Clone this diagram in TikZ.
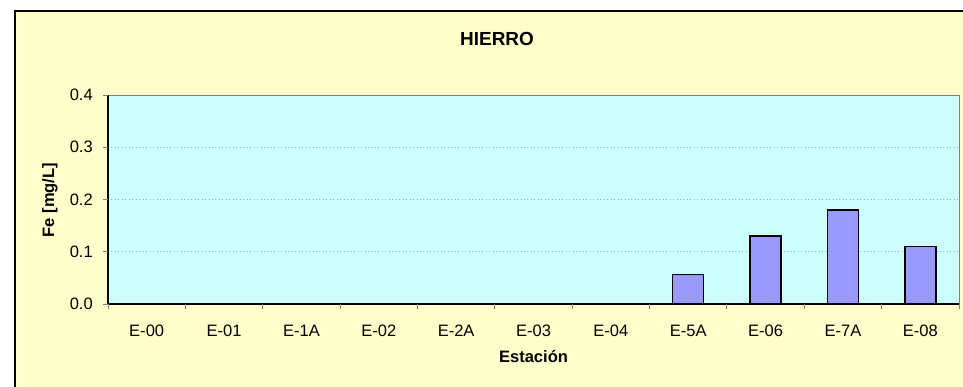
\documentclass[tikz,border=0pt]{standalone}
\usepackage{fontspec}
\setmainfont{Liberation Sans}
\usepackage{tikz}
\usetikzlibrary{positioning}
\definecolor{chartbg}{HTML}{FFFFCC}
\definecolor{plotbg}{HTML}{CCFFFF}
\definecolor{barfill}{HTML}{9999FF}
\tikzstyle{ticklabel} = [inner sep=0pt, font=\fontsize{12.4}{14}\selectfont]
\tikzstyle{axistitle} = [inner sep=0pt, font=\fontsize{12.4}{14}\selectfont\bfseries]
\tikzstyle{charttitle} = [inner sep=0pt, font=\fontsize{14.2}{16}\selectfont\bfseries]
\tikzstyle{bar} = [draw=black, line width=1.1pt, fill=barfill]
\tikzstyle{gridline} = [gray!70, dotted, line width=0.6pt]
\tikzstyle{axistick} = [gray, line width=0.75pt]
\tikzstyle{axisline} = [black, line width=1.1pt]

\begin{document}
\begin{tikzpicture}[x=0.75pt, y=-0.75pt]
\clip (0,0) rectangle (963,386);
% chart and plot area
\draw [fill=chartbg, line width=1.2pt] (15,11) rectangle (990,410);
\draw [fill=plotbg, draw=gray, line width=0.75pt] (108,304) rectangle (959,95);
\node (title) [charttitle] at (497,39) {HIERRO};
% grid lines
\draw [gridline] (108,251.75) -- (959,251.75);
\draw [gridline] (108,199.5) -- (959,199.5);
\draw [gridline] (108,147.25) -- (959,147.25);
% bars
\draw [bar] (672.7,304) rectangle (703.7,274.7);
\draw [bar] (750.1,304) rectangle (781.1,236.1);
\draw [bar] (827.5,304) rectangle (858.5,210.0);
\draw [bar] (904.8,304) rectangle (935.8,246.5);
% y axis
\draw [axisline] (108,95) -- (108,304);
\draw [axistick] (103,304) -- (108,304);
\draw [axistick] (103,251.75) -- (108,251.75);
\draw [axistick] (103,199.5) -- (108,199.5);
\draw [axistick] (103,147.25) -- (108,147.25);
\draw [axistick] (103,95) -- (108,95);
\node (y00) [ticklabel, anchor=east] at (93,304) {0.0};
\node (y01) [ticklabel, anchor=east] at (93,251.75) {0.1};
\node (y02) [ticklabel, anchor=east] at (93,199.5) {0.2};
\node (y03) [ticklabel, anchor=east] at (93,147.25) {0.3};
\node (y04) [ticklabel, anchor=east] at (93,95) {0.4};
\node (ytitle) [axistitle, rotate=90] at (50,200) {Fe [mg/L]};
% x axis
\draw [axisline] (108,304) -- (959,304);
\draw [axistick] (108,304) -- (108,309);
\draw [axistick] (185.36,304) -- (185.36,309);
\draw [axistick] (262.73,304) -- (262.73,309);
\draw [axistick] (340.09,304) -- (340.09,309);
\draw [axistick] (417.45,304) -- (417.45,309);
\draw [axistick] (494.82,304) -- (494.82,309);
\draw [axistick] (572.18,304) -- (572.18,309);
\draw [axistick] (649.55,304) -- (649.55,309);
\draw [axistick] (726.91,304) -- (726.91,309);
\draw [axistick] (804.27,304) -- (804.27,309);
\draw [axistick] (881.64,304) -- (881.64,309);
\draw [axistick] (959,304) -- (959,309);
\node (e00) [ticklabel] at (146.68,331) {E-00};
\node (e01) [ticklabel] at (224.05,331) {E-01};
\node (e1a) [ticklabel] at (301.41,331) {E-1A};
\node (e02) [ticklabel] at (378.77,331) {E-02};
\node (e2a) [ticklabel] at (456.14,331) {E-2A};
\node (e03) [ticklabel] at (533.5,331) {E-03};
\node (e04) [ticklabel] at (610.86,331) {E-04};
\node (e5a) [ticklabel] at (688.23,331) {E-5A};
\node (e06) [ticklabel] at (765.59,331) {E-06};
\node (e7a) [ticklabel] at (842.95,331) {E-7A};
\node (e08) [ticklabel] at (920.32,331) {E-08};
\node (xtitle) [axistitle] at (533.5,357) {Estación};
\end{tikzpicture}
\end{document}
